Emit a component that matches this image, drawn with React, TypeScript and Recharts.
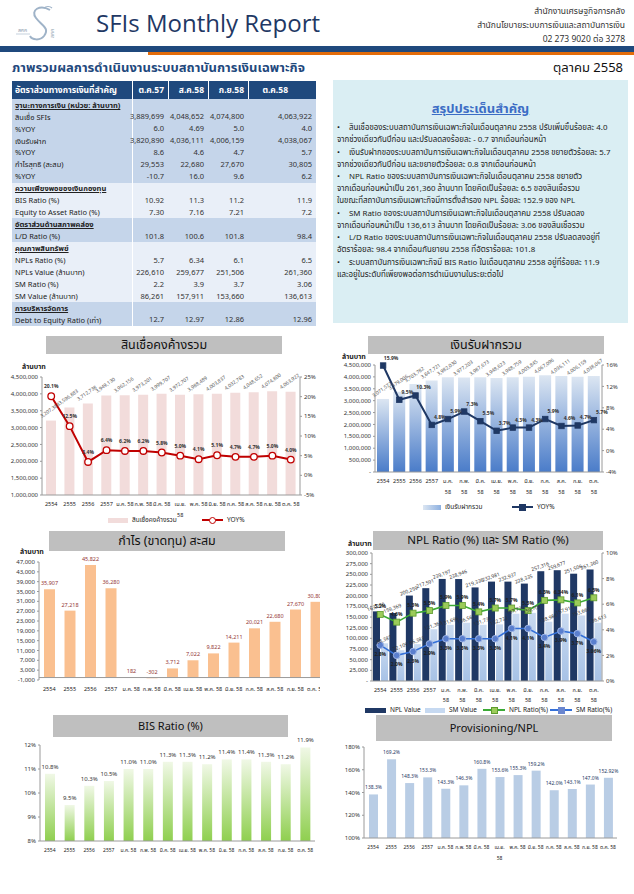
import React from "react";
import {
  ComposedChart,
  Bar,
  Line,
  XAxis,
  YAxis,
  LabelList,
  ReferenceLine,
} from "recharts";

const FONT = "Tahoma, 'Noto Sans Thai', 'Noto Sans', 'DejaVu Sans', sans-serif";

// --- shared categories ---
const periods = [
  "2554", "2555", "2556", "2557",
  "ม.ค. 58", "ก.พ. 58", "มี.ค. 58", "เม.ย. 58", "พ.ค. 58",
  "มิ.ย. 58", "ก.ค. 58", "ส.ค. 58", "ก.ย. 58", "ต.ค. 58",
];

// --- สินเชื่อคงค้างรวม ---
const loanOutstanding = [
  3207384, 3596883, 3712738, 3949130, 3962156, 3973201, 3999707,
  3972707, 3988489, 4003837, 4032783, 4048652, 4074800, 4063922,
];
const loanYoy = [20.1, 12.5, 3.4, 6.4, 6.2, 6.2, 5.8, 5.0, 4.1, 5.1, 4.7, 4.7, 5.0, 4.0];
const loanLeftTicks = [1000000, 1500000, 2000000, 2500000, 3000000, 3500000, 4000000, 4500000];
const loanRightTicks = [-5, 0, 5, 10, 15, 20, 25];

// --- เงินรับฝากรวม ---
const depositTotal = [
  3071572, 3379006, 3703782, 3847721, 3982030, 3977203, 3987673,
  3948623, 3988759, 4003845, 4067096, 4036111, 4006159, 4038067,
];
const depositYoy = [15.9, 9.5, 10.3, 4.8, 5.9, 7.3, 5.5, 3.7, 4.3, 4.3, 5.9, 4.6, 4.7, 5.7];
const depositLeftTicks = [0, 500000, 1000000, 1500000, 2000000, 2500000, 3000000, 3500000, 4000000, 4500000];
const depositRightTicks = [-4, 0, 4, 8, 12, 16];

// --- กำไร (ขาดทุน) สะสม ---
const profitAccum = [35907, 27218, 45822, 36280, 182, -302, 3712, 7022, 9822, 14211, 20021, 22680, 27670, 30805];
const profitTicks = [-1000, 3000, 7000, 11000, 15000, 19000, 23000, 27000, 31000, 35000, 39000, 43000, 47000];

// --- NPL / SM ---
const nplValue = [163206, 159369, 200259, 217591, 239197, 238946, 219336, 232981, 232937, 228335, 257316, 259677, 251506, 261360];
const smValue = [88387, 72109, 86383, 121363, 131696, 136561, 131738, 132733, 157736, 159709, 138984, 157911, 153660, 136613];
const nplRatio = [5.2, 4.6, 5.3, 5.5, 5.9, 5.9, 5.4, 5.7, 5.7, 5.5, 6.3, 6.34, 6.1, 6.5];
const smRatio = [2.8, 2.0, 2.3, 2.9, 3.3, 3.3, 3.3, 3.3, 4.1, 4.1, 3.4, 3.9, 3.7, 3.06];
const nplLeftTicks = [0, 25000, 50000, 75000, 100000, 125000, 150000, 175000, 200000, 225000, 250000, 275000, 300000];
const nplRightTicks = [0, 2, 4, 6, 8, 10];

// --- BIS / Provisioning ---
const bisRatio = [10.8, 9.5, 10.3, 10.5, 11.0, 11.0, 11.3, 11.3, 11.2, 11.4, 11.4, 11.3, 11.2, 11.9];
const bisTicks = [8, 9, 10, 11, 12];
const provisionRatio = [138.3, 169.2, 148.3, 153.3, 143.3, 146.3, 160.8, 153.6, 155.3, 159.2, 142.0, 143.1, 147.0, 152.92];
const provisionTicks = [100, 120, 140, 160, 180];

// --- table ---
const tableCols = ["ต.ค.57", "ส.ค.58", "ก.ย.58", "ต.ค.58"];
const tableRows: { label: string; values?: string[]; head?: boolean; band: number }[] = [
  { label: "ฐานะทางการเงิน (หน่วย: ล้านบาท)", head: true, band: 0 },
  { label: "สินเชื่อ SFIs", values: ["3,889,699", "4,048,652", "4,074,800", "4,063,922"], band: 0 },
  { label: "%YOY", values: ["6.0", "4.69", "5.0", "4.0"], band: 0 },
  { label: "เงินรับฝาก", values: ["3,820,890", "4,036,111", "4,006,159", "4,038,067"], band: 0 },
  { label: "%YOY", values: ["8.6", "4.6", "4.7", "5.7"], band: 0 },
  { label: "กำไรสุทธิ (สะสม)", values: ["29,553", "22,680", "27,670", "30,805"], band: 0 },
  { label: "%YOY", values: ["-10.7", "16.0", "9.6", "6.2"], band: 0 },
  { label: "ความเพียงพอของเงินกองทุน", head: true, band: 1 },
  { label: "BIS Ratio (%)", values: ["10.92", "11.3", "11.2", "11.9"], band: 1 },
  { label: "Equity to Asset Ratio (%)", values: ["7.30", "7.16", "7.21", "7.2"], band: 1 },
  { label: "อัตราส่วนด้านสภาพคล่อง", head: true, band: 0 },
  { label: "L/D Ratio (%)", values: ["101.8", "100.6", "101.8", "98.4"], band: 0 },
  { label: "คุณภาพสินทรัพย์", head: true, band: 1 },
  { label: "NPLs Ratio (%)", values: ["5.7", "6.34", "6.1", "6.5"], band: 1 },
  { label: "NPLs Value (ล้านบาท)", values: ["226,610", "259,677", "251,506", "261,360"], band: 1 },
  { label: "SM Ratio (%)", values: ["2.2", "3.9", "3.7", "3.06"], band: 1 },
  { label: "SM Value (ล้านบาท)", values: ["86,261", "157,911", "153,660", "136,613"], band: 1 },
  { label: "การบริหารจัดการ", head: true, band: 0 },
  { label: "Debt to Equity Ratio (เท่า)", values: ["12.7", "12.97", "12.86", "12.96"], band: 0 },
];

// --- summary ---
const summaryBullets = [
  ["สินเชื่อของระบบสถาบันการเงินเฉพาะกิจในเดือนตุลาคม 2558 ปรับเพิ่มขึ้นร้อยละ 4.0", "จากช่วงเดียวกันปีก่อน และปรับลดลงร้อยละ - 0.7 จากเดือนก่อนหน้า"],
  ["เงินรับฝากของระบบสถาบันการเงินเฉพาะกิจในเดือนตุลาคม 2558 ขยายตัวร้อยละ 5.7", "จากช่วงเดียวกันปีก่อน และขยายตัวร้อยละ 0.8 จากเดือนก่อนหน้า"],
  ["NPL Ratio ของระบบสถาบันการเงินเฉพาะกิจในเดือนตุลาคม 2558 ขยายตัว", "จากเดือนก่อนหน้าเป็น 261,360 ล้านบาท โดยคิดเป็นร้อยละ 6.5 ของสินเชื่อรวม", "ในขณะที่สถาบันการเงินเฉพาะกิจมีการตั้งสำรอง NPL ร้อยละ 152.9 ของ NPL"],
  ["SM Ratio ของระบบสถาบันการเงินเฉพาะกิจในเดือนตุลาคม 2558 ปรับลดลง", "จากเดือนก่อนหน้าเป็น 136,613 ล้านบาท โดยคิดเป็นร้อยละ 3.06 ของสินเชื่อรวม"],
  ["L/D Ratio ของระบบสถาบันการเงินเฉพาะกิจในเดือนตุลาคม 2558 ปรับลดลงอยู่ที่", "อัตราร้อยละ 98.4 จากเดือนกันยายน 2558 ที่อัตราร้อยละ 101.8"],
  ["ระบบสถาบันการเงินเฉพาะกิจมี BIS Ratio ในเดือนตุลาคม 2558 อยู่ที่ร้อยละ 11.9", "และอยู่ในระดับที่เพียงพอต่อการดำเนินงานในระยะต่อไป"],
];

const loanData = periods.map((p, i) => ({ period: p, value: loanOutstanding[i], yoy: loanYoy[i] }));
const depositData = periods.map((p, i) => ({ period: p, value: depositTotal[i], yoy: depositYoy[i] }));
const profitData = periods.map((p, i) => ({ period: p, value: profitAccum[i] }));
const nplData = periods.map((p, i) => ({ period: p, npl: nplValue[i], sm: smValue[i], nplR: nplRatio[i], smR: smRatio[i] }));
const bisData = periods.map((p, i) => ({ period: p, value: bisRatio[i] }));
const provisionData = periods.map((p, i) => ({ period: p, value: provisionRatio[i] }));

const num = (v: number) => (v === 0 ? "-" : v.toLocaleString("en-US"));
const pct = (v: number) => {
  const oneDec = Math.abs(Math.round(v * 10) - v * 10) < 1e-6;
  return (oneDec ? v.toFixed(1) : v.toFixed(2)) + "%";
};
const pctTick = (v: number) => `${v}%`;

const axisStroke = "#9a9a9a";
const tickStyle = { fontSize: 6, fill: "#333", fontFamily: FONT };

const makeXTick = (wrap: (v: string) => boolean, size = 6, lineGap = 11) => (props: any) => {
  const { x, y, payload } = props;
  const v = String(payload.value);
  const lines = wrap(v) ? v.split(" ") : [v];
  return (
    <g transform={`translate(${x},${y})`}>
      {lines.map((t, i) => (
        <text key={i} x={0} y={9 + i * lineGap} textAnchor="middle" fontSize={size} fill="#222" fontFamily={FONT}>
          {t}
        </text>
      ))}
    </g>
  );
};

const slantLabel = (fmt: (v: number) => string, dy: number, angle: number, color: string, size = 5.5) => (props: any) => {
  const { x, y, width, value } = props;
  const cx = Number(x) + Number(width) / 2;
  const cy = Number(y) - dy;
  return (
    <text x={cx} y={cy} transform={`rotate(${angle} ${cx} ${cy})`} textAnchor="middle" fontSize={size} fill={color} fontFamily={FONT}>
      {fmt(Number(value))}
    </text>
  );
};

const pointLabel = (fmt: (v: number) => string, dx: number, dy: number, color: string, size = 5.5) => (props: any) => {
  const { x, y, value } = props;
  return (
    <text x={Number(x) + dx} y={Number(y) + dy} textAnchor="middle" fontSize={size} fill={color} fontWeight="bold" fontFamily={FONT}>
      {fmt(Number(value))}
    </text>
  );
};

const squareDot = (fill: string, stroke: string, s: number) => (props: any) => {
  const { cx, cy, index } = props;
  return <rect key={`sq-${index}`} x={cx - s / 2} y={cy - s / 2} width={s} height={s} fill={fill} stroke={stroke} strokeWidth={0.8} />;
};

const TitleBar = ({ x, y, w, h, text, size }: { x: number; y: number; w: number; h: number; text: string; size: number }) => (
  <div style={{ position: "absolute", left: x, top: y, width: w, height: h, background: "#BFBFBF", display: "flex", alignItems: "center", justifyContent: "center", fontSize: size, color: "#111" }}>
    {text}
  </div>
);

const Txt = ({ x, y, size, children, color = "#222", bold = false }: any) => (
  <div style={{ position: "absolute", left: x, top: y, fontSize: size, color, fontWeight: bold ? "bold" : "normal", whiteSpace: "nowrap", lineHeight: 1 }}>
    {children}
  </div>
);

function Header() {
  return (
    <>
      <svg style={{ position: "absolute", left: 14, top: 2 }} width={50} height={42}>
        <path d="M36 8 C26 2 16 8 22 16 C28 24 36 26 30 34 C26 39 18 38 16 34" fill="none" stroke="#9fb3c8" strokeWidth={2} />
        <path d="M30 6 C32 4 36 4 38 6" fill="none" stroke="#9fb3c8" strokeWidth={1.2} />
        <text x={4} y={30} fontSize={5} fill="#8898aa" fontFamily={FONT}>สศค</text>
        <line x1={2} y1={32} x2={16} y2={32} stroke="#9fb3c8" strokeWidth={0.6} />
        <text x={40} y={36} fontSize={5} fill="#8898aa" fontFamily={FONT} transform="rotate(-90 40 36)">สศค</text>
      </svg>
      <div style={{ position: "absolute", left: 96, top: 6, fontSize: 24, color: "#1F3864", fontFamily: "'Open Sans', 'Noto Sans', sans-serif", whiteSpace: "nowrap" }}>
        SFIs Monthly Report
      </div>
      <div style={{ position: "absolute", right: 9, top: 5, textAlign: "right", fontSize: 8.5, color: "#333", lineHeight: "14px" }}>
        <div>สำนักงานเศรษฐกิจการคลัง</div>
        <div>สำนักนโยบายระบบการเงินและสถาบันการเงิน</div>
        <div>02 273 9020 ต่อ 3278</div>
      </div>
      <div style={{ position: "absolute", left: 0, top: 46, width: 634, height: 6, background: "#1F497D" }} />
      <div style={{ position: "absolute", left: 148, top: 52, width: 486, height: 3, background: "#E36C0A" }} />
      <Txt x={12} y={62} size={13} color="#1F497D" bold>ภาพรวมผลการดำเนินงานระบบสถาบันการเงินเฉพาะกิจ</Txt>
      <Txt x={553} y={62} size={13} color="#111">ตุลาคม 2558</Txt>
    </>
  );
}

const colEdges = [12, 132, 168, 208, 248, 316];

function RatioTable() {
  const headTop = 81;
  const headH = 18;
  const rowH = 11.94;
  const bands = ["#C5D5EA", "#E9EFF8"];
  return (
    <>
      {[0, 1, 2, 3, 4].map((c) => (
        <div key={`h${c}`} style={{ position: "absolute", left: colEdges[c] + (c ? 1 : 0), top: headTop, width: colEdges[c + 1] - colEdges[c] - (c ? 1 : 0), height: headH, background: "#1F497D", color: "#fff", fontSize: 8.5, fontWeight: "bold", display: "flex", alignItems: "center", justifyContent: c === 0 ? "flex-start" : "flex-end", paddingLeft: c === 0 ? 3 : 0, paddingRight: c === 0 ? 0 : c === 4 ? 28 : 4, boxSizing: "border-box", whiteSpace: "nowrap" }}>
          {c === 0 ? "อัตราส่วนทางการเงินที่สำคัญ" : tableCols[c - 1]}
        </div>
      ))}
      {tableRows.map((r, ri) => {
        const top = headTop + headH + ri * rowH;
        return (
          <React.Fragment key={ri}>
            <div style={{ position: "absolute", left: colEdges[0], top, width: colEdges[1] - colEdges[0], height: rowH + 0.5, background: bands[r.band], fontSize: 7.5, color: "#222", display: "flex", alignItems: "center", paddingLeft: 3, boxSizing: "border-box", whiteSpace: "nowrap", textDecoration: r.head ? "underline" : "none", fontWeight: r.head ? "bold" : "normal" }}>
              {r.label}
            </div>
            <div style={{ position: "absolute", left: colEdges[1] + 1, top, width: colEdges[5] - colEdges[1] - 1, height: rowH + 0.5, background: bands[r.band] }} />
            {r.values &&
              r.values.map((v, ci) => (
                <div key={ci} style={{ position: "absolute", left: colEdges[ci + 1], top, width: colEdges[ci + 2] - colEdges[ci + 1], height: rowH, fontSize: 7.5, color: "#333", display: "flex", alignItems: "center", justifyContent: "flex-end", paddingRight: 4, boxSizing: "border-box" }}>
                  {v}
                </div>
              ))}
          </React.Fragment>
        );
      })}
    </>
  );
}

function Summary() {
  let y = 125;
  const items: React.ReactElement[] = [];
  summaryBullets.forEach((lines, bi) => {
    lines.forEach((ln, li) => {
      items.push(
        <Txt key={`${bi}-${li}`} x={337} y={y} size={7.9} color="#222">
          {li === 0 ? <span><span style={{ marginRight: 9 }}>•</span>{ln}</span> : ln}
        </Txt>
      );
      y += 12;
    });
    y += 0.6;
  });
  return (
    <>
      <div style={{ position: "absolute", left: 333, top: 80, width: 295, height: 243, background: "#DAEEF3" }} />
      <div style={{ position: "absolute", left: 333, top: 99, width: 295, textAlign: "center", fontSize: 13, color: "#3C6DC5", textDecoration: "underline", fontWeight: "bold" }}>
        สรุปประเด็นสำคัญ
      </div>
      {items}
    </>
  );
}

const LegendBox = ({ x, y, w, color, label, gradient }: any) => (
  <>
    <div style={{ position: "absolute", left: x, top: y - 2.5, width: w, height: 5, background: gradient || color }} />
    <Txt x={x + w + 4} y={y - 3.5} size={6.5}>{label}</Txt>
  </>
);

const LegendLine = ({ x, y, w, color, label, marker }: any) => (
  <>
    <div style={{ position: "absolute", left: x, top: y - 1, width: w, height: 2, background: color }} />
    <div style={{ position: "absolute", left: x + w / 2 - 3.5, top: y - 3.5, width: 7, height: 7, boxSizing: "border-box", ...marker }} />
    <Txt x={x + w + 4} y={y - 3.5} size={6.5}>{label}</Txt>
  </>
);

function LoanChart() {
  return (
    <>
      <TitleBar x={46} y={336} w={236} h={18} text="สินเชื่อคงค้างรวม" size={12.5} />
      <Txt x={22} y={364} size={7} bold>ล้านบาท</Txt>
      <div style={{ position: "absolute", left: 10, top: 360 }}>
        <ComposedChart width={310} height={160} data={loanData} margin={{ top: 17, right: 0, bottom: 0, left: 0 }}>
          <XAxis dataKey="period" interval={0} tickLine={false} tickSize={0} height={25} stroke={axisStroke} tick={makeXTick((v) => v === "เม.ย. 58", 5.5)} />
          <YAxis yAxisId="l" width={32} domain={[1000000, 4500000]} ticks={loanLeftTicks} tickFormatter={num} tick={tickStyle} tickSize={2} stroke={axisStroke} interval={0} />
          <YAxis yAxisId="r" orientation="right" width={20} domain={[-5, 25]} ticks={loanRightTicks} tickFormatter={pctTick} tick={tickStyle} tickSize={2} stroke={axisStroke} interval={0} />
          <Bar yAxisId="l" dataKey="value" fill="#F2DCDB" barSize={10} isAnimationActive={false}>
            <LabelList dataKey="value" content={slantLabel(num, 9, -35, "#595959", 5)} />
          </Bar>
          <Line yAxisId="r" dataKey="yoy" stroke="#C00000" strokeWidth={2} dot={{ r: 3.3, fill: "#fff", stroke: "#C00000", strokeWidth: 1.3 }} isAnimationActive={false}>
            <LabelList dataKey="yoy" content={pointLabel(pct, 0, -8, "#333", 5)} />
          </Line>
        </ComposedChart>
      </div>
      <LegendBox x={108} y={520} w={20} color="#F2DCDB" label="สินเชื่อคงค้างรวม" />
      <LegendLine x={202} y={520} w={21} color="#C00000" label="YOY%" marker={{ borderRadius: "50%", border: "1.3px solid #C00000", background: "#fff" }} />
    </>
  );
}

function DepositChart() {
  return (
    <>
      <TitleBar x={368} y={336} w={236} h={18} text="เงินรับฝากรวม" size={12.5} />
      <Txt x={342} y={354} size={7} bold>ล้านบาท</Txt>
      <div style={{ position: "absolute", left: 340, top: 350 }}>
        <ComposedChart width={284} height={147} data={depositData} margin={{ top: 15, right: 0, bottom: 0, left: 0 }}>
          <defs>
            <linearGradient id="depGrad" x1="0" y1="0" x2="0" y2="1">
              <stop offset="0%" stopColor="#DCE6F2" />
              <stop offset="100%" stopColor="#4A7CC9" />
            </linearGradient>
          </defs>
          <XAxis dataKey="period" interval={0} tickLine={false} tickSize={0} height={25} stroke={axisStroke} tick={makeXTick((v) => v.includes(" "), 5.5)} />
          <YAxis yAxisId="l" width={35} domain={[0, 4500000]} ticks={depositLeftTicks} tickFormatter={num} tick={tickStyle} tickSize={2} stroke={axisStroke} interval={0} />
          <YAxis yAxisId="r" orientation="right" width={22} domain={[-4, 16]} ticks={depositRightTicks} tickFormatter={pctTick} tick={tickStyle} tickSize={2} stroke={axisStroke} interval={0} />
          <Bar yAxisId="l" dataKey="value" fill="url(#depGrad)" barSize={12} isAnimationActive={false}>
            <LabelList dataKey="value" content={slantLabel(num, 8, -35, "#595959", 5)} />
          </Bar>
          <Line yAxisId="r" dataKey="yoy" stroke="#1F3864" strokeWidth={2} dot={squareDot("#1F3864", "#1F3864", 5.5)} isAnimationActive={false}>
            <LabelList dataKey="yoy" content={pointLabel(pct, 8, -6, "#333", 5)} />
          </Line>
        </ComposedChart>
      </div>
      <LegendBox x={423} y={507} w={18} color="#B8CCE4" gradient="linear-gradient(90deg,#DCE6F2,#8DB0E0)" label="เงินรับฝากรวม" />
      <LegendLine x={512} y={507} w={21} color="#1F3864" label="YOY%" marker={{ background: "#1F3864" }} />
    </>
  );
}

function ProfitChart() {
  return (
    <>
      <TitleBar x={49} y={531} w={236} h={20} text="กำไร (ขาดทุน) สะสม" size={12.5} />
      <Txt x={20} y={549} size={7} bold>ล้านบาท</Txt>
      <div style={{ position: "absolute", left: 0, top: 545, width: 320, height: 152, overflow: "hidden" }}>
        <ComposedChart width={330} height={149} data={profitData} margin={{ top: 17, right: 4, bottom: 0, left: 0 }}>
          <XAxis dataKey="period" interval={0} tickLine={false} tickSize={0} height={14} axisLine={false} tick={makeXTick(() => false, 5.5)} />
          <YAxis width={39} domain={[-1000, 47000]} ticks={profitTicks} tickFormatter={num} tick={tickStyle} tickSize={2} stroke={axisStroke} interval={0} />
          <ReferenceLine y={0} stroke={axisStroke} />
          <Bar dataKey="value" fill="#FAC090" barSize={11} isAnimationActive={false}>
            <LabelList dataKey="value" content={slantLabel(num, 4, 0, "#953735", 5.5)} />
          </Bar>
        </ComposedChart>
      </div>
    </>
  );
}

function NplChart() {
  return (
    <>
      <TitleBar x={373} y={531} w={230} h={19} text="NPL Ratio (%) และ SM Ratio (%)" size={11.5} />
      <Txt x={348} y={541} size={7} bold>ล้านบาท</Txt>
      <div style={{ position: "absolute", left: 335, top: 540 }}>
        <ComposedChart width={289} height={164} data={nplData} margin={{ top: 13, right: 0, bottom: 0, left: 0 }} barGap={1}>
          <defs>
            <linearGradient id="smGrad" x1="0" y1="0" x2="0" y2="1">
              <stop offset="0%" stopColor="#C9DAF0" />
              <stop offset="100%" stopColor="#A7C2E6" />
            </linearGradient>
          </defs>
          <XAxis dataKey="period" interval={0} tickLine={false} tickSize={0} height={23} stroke={axisStroke} tick={makeXTick((v) => v.includes(" "), 5.5, 9.5)} />
          <YAxis yAxisId="l" width={37} domain={[0, 300000]} ticks={nplLeftTicks} tickFormatter={num} tick={tickStyle} tickSize={2} stroke={axisStroke} interval={0} />
          <YAxis yAxisId="r" orientation="right" width={22} domain={[0, 10]} ticks={nplRightTicks} tickFormatter={pctTick} tick={tickStyle} tickSize={2} stroke={axisStroke} interval={0} />
          <Bar yAxisId="l" dataKey="npl" fill="#1F3864" barSize={7} isAnimationActive={false}>
            <LabelList dataKey="npl" content={slantLabel(num, 3, -20, "#333", 5)} />
          </Bar>
          <Bar yAxisId="l" dataKey="sm" fill="url(#smGrad)" barSize={7} isAnimationActive={false}>
            <LabelList dataKey="sm" content={slantLabel(num, 2, -20, "#333", 5)} />
          </Bar>
          <Line yAxisId="r" dataKey="nplR" stroke="#3BAA35" strokeWidth={1.6} dot={squareDot("#9BCB5A", "#5E9B2E", 6)} isAnimationActive={false}>
            <LabelList dataKey="nplR" content={pointLabel(pct, 0, -6, "#222", 5)} />
          </Line>
          <Line yAxisId="r" dataKey="smR" stroke="#3470D8" strokeWidth={1.6} dot={{ r: 3.3, fill: "#5A7FCE", stroke: "#9DB4E6", strokeWidth: 1 }} isAnimationActive={false}>
            <LabelList dataKey="smR" content={pointLabel(pct, 0, 11, "#222", 5)} />
          </Line>
        </ComposedChart>
      </div>
      <LegendBox x={365} y={710} w={21} color="#1F3864" label="NPL Value" />
      <LegendBox x={425} y={710} w={20} color="#C6D9F1" label="SM Value" />
      <LegendLine x={483} y={710} w={22} color="#3BAA35" label="NPL Ratio(%)" marker={{ background: "#9BCB5A", border: "0.8px solid #5E9B2E" }} />
      <LegendLine x={550} y={710} w={22} color="#3470D8" label="SM Ratio(%)" marker={{ background: "#6A86CF" }} />
    </>
  );
}

function BisChart() {
  return (
    <>
      <TitleBar x={53} y={715} w={235} h={22} text="BIS Ratio (%)" size={11} />
      <div style={{ position: "absolute", left: 0, top: 730 }}>
        <ComposedChart width={320} height={126} data={bisData} margin={{ top: 15, right: 5, bottom: 0, left: 0 }}>
          <defs>
            <linearGradient id="bisGrad" x1="0" y1="0" x2="0" y2="1">
              <stop offset="0%" stopColor="#F0F8E6" />
              <stop offset="100%" stopColor="#8FCF4F" />
            </linearGradient>
          </defs>
          <XAxis dataKey="period" interval={0} tickLine={false} tickSize={0} height={15} stroke={axisStroke} tick={makeXTick(() => false, 5)} />
          <YAxis width={40} domain={[8, 12]} ticks={bisTicks} tickFormatter={pctTick} tick={tickStyle} tickSize={2} stroke={axisStroke} interval={0} />
          <Bar dataKey="value" fill="url(#bisGrad)" barSize={10} isAnimationActive={false}>
            <LabelList dataKey="value" content={slantLabel(pct, 5, 0, "#333", 6)} />
          </Bar>
        </ComposedChart>
      </div>
    </>
  );
}

function ProvisionChart() {
  return (
    <>
      <TitleBar x={376} y={715} w={236} h={26} text="Provisioning/NPL" size={11} />
      <div style={{ position: "absolute", left: 323, top: 732 }}>
        <ComposedChart width={299} height={130} data={provisionData} margin={{ top: 15, right: 5, bottom: 0, left: 0 }}>
          <XAxis dataKey="period" interval={0} tickLine={false} tickSize={0} height={24} stroke={axisStroke} tick={makeXTick((v) => v === "เม.ย. 58", 5)} />
          <YAxis width={41} domain={[100, 180]} ticks={provisionTicks} tickFormatter={pctTick} tick={tickStyle} tickSize={2} stroke={axisStroke} interval={0} />
          <Bar dataKey="value" fill="#B9CDE5" barSize={9} isAnimationActive={false}>
            <LabelList dataKey="value" content={slantLabel(pct, 5, 0, "#1F3864", 5)} />
          </Bar>
        </ComposedChart>
      </div>
    </>
  );
}

export default function App() {
  return (
    <div style={{ position: "absolute", left: 0, top: 0, width: 634, height: 894, background: "#fff", fontFamily: FONT, overflow: "hidden" }}>
      <Header />
      <RatioTable />
      <Summary />
      <LoanChart />
      <DepositChart />
      <ProfitChart />
      <NplChart />
      <BisChart />
      <ProvisionChart />
    </div>
  );
}
